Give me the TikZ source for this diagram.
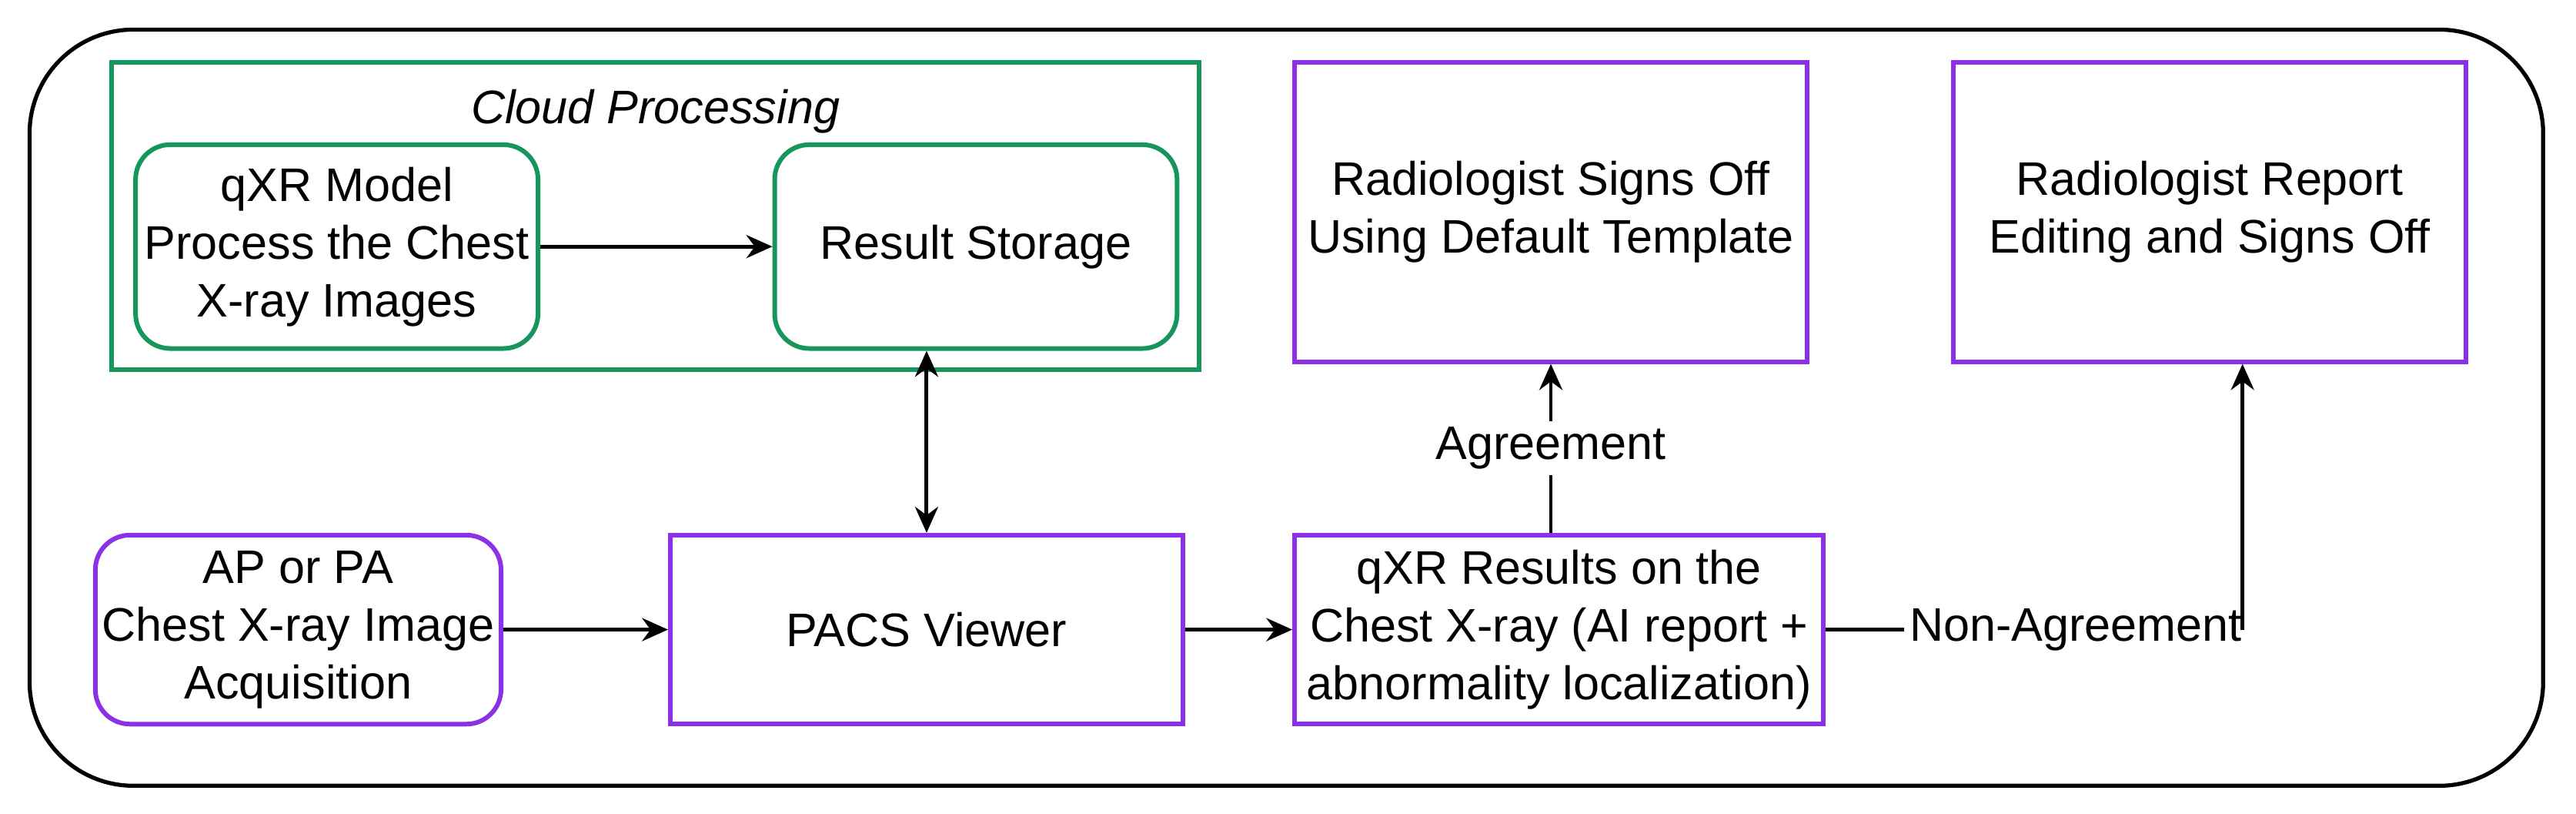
\documentclass[tikz,border=0pt]{standalone}
\usepackage{fontspec}
\setmainfont{Liberation Sans}
\usetikzlibrary{arrows.meta,positioning,calc}
\definecolor{cloudgreen}{RGB}{22,150,90}
\definecolor{boxpurple}{RGB}{140,50,230}
\begin{document}
\begin{tikzpicture}[x=0.02cm,y=-0.02cm,
    font=\fontsize{16.3}{20}\selectfont,
    greenbox/.style={rectangle, draw=cloudgreen, line width=1.6pt, rounded corners=12pt, minimum width=4.9cm, minimum height=2.48cm, align=center, inner sep=1pt},
    purplebox/.style={rectangle, draw=boxpurple, line width=1.6pt, minimum width=6.24cm, minimum height=2.3cm, align=center, inner sep=1pt},
    arrow/.style={line width=1.3pt,-{Stealth[length=9pt,width=8pt]}}
]
    \useasboundingbox (0,0) rectangle (1568,495);
    \draw[line width=1.4pt, rounded corners=36pt] (18,18) rectangle (1548,478);

    % Cloud processing
    \node[rectangle, draw=cloudgreen, line width=1.6pt, minimum width=13.24cm, minimum height=3.74cm] (cloud) at (399,131.5) {};
    \node[font=\fontsize{16.3}{20}\selectfont\itshape] (cloudtitle) at (399,68) {Cloud Processing};
    \node[greenbox] (model) at (205,150) {qXR Model\\Process the Chest\\X-ray Images};
    \node[greenbox] (storage) at (594,150) {Result Storage};

    % Radiologist boxes
    \node[purplebox, minimum height=3.64cm] (signoff) at (944,129) {Radiologist Signs Off\\Using Default Template};
    \node[purplebox, minimum height=3.64cm] (edit) at (1345,129) {Radiologist Report\\Editing and Signs Off};

    % Bottom row
    \node[purplebox, rounded corners=12pt, minimum width=4.94cm] (acq) at (181.5,383) {AP or PA\\Chest X-ray Image\\Acquisition};
    \node[purplebox] (pacs) at (564,383) {PACS Viewer};
    \node[purplebox, minimum width=6.44cm] (results) at (949,383) {qXR Results on the\\Chest X-ray (AI report +\\abnormality localization)};
    \coordinate (corner) at (1365,383);

    % Arrows
    \draw[arrow] (model) -- (storage);
    \draw[line width=1.3pt,{Stealth[length=9pt,width=8pt]}-{Stealth[length=9pt,width=8pt]}] (storage.south -| pacs.north) -- (pacs.north);
    \draw[arrow] (acq) -- (pacs);
    \draw[arrow] (pacs) -- (results);
    \draw[arrow] (results.north -| signoff.south) -- node[fill=white, inner sep=2pt] {Agreement} (signoff.south);
    \draw[line width=1.3pt] (results.east) -- node[fill=white, inner sep=2pt, pos=0.6] {Non-Agreement} (corner);
    \draw[arrow] (corner) -- (edit.south -| corner);
\end{tikzpicture}
\end{document}
